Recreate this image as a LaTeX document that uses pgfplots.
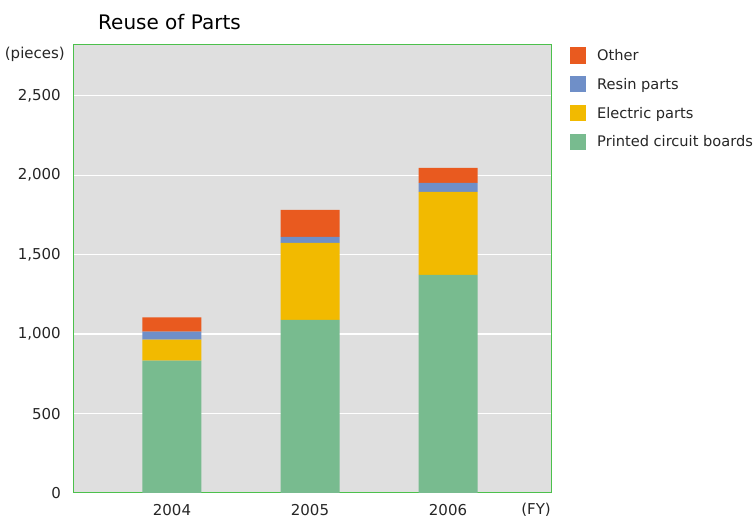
\documentclass[border=0pt]{standalone}
\usepackage{pgfplots}
\pgfplotsset{compat=1.18}
\usepackage{fontspec}
\setmainfont{DejaVu Sans}
\definecolor{cOther}{HTML}{E95A1F}
\definecolor{cResin}{HTML}{6F8FC8}
\definecolor{cElec}{HTML}{F2BA00}
\definecolor{cPCB}{HTML}{78BB8F}
\definecolor{cBg}{HTML}{DFDFDF}
\definecolor{cFrame}{HTML}{4CC04C}
\definecolor{cText}{HTML}{262626}
\begin{document}
\begin{tikzpicture}[x=1pt,y=1pt]
\useasboundingbox (0,0) rectangle (756,520);
\node[anchor=west, font=\fontsize{20}{24}\selectfont, text=black, inner sep=0pt] at (98,498) {Reuse of Parts};
\begin{axis}[
  at={(73pt,27pt)}, anchor=south west, scale only axis,
  width=478pt, height=448pt,
  clip=false,
  ybar stacked, bar width=59pt,
  xmin=-0.717, xmax=2.746, ymin=0, ymax=2820,
  xtick={0,1,2}, xticklabels={2004,2005,2006},
  ytick={0,500,1000,1500,2000,2500},
  major tick length=0pt,
  axis background/.style={fill=cBg},
  ymajorgrids, grid style={white, line width=1.3pt},
  axis line style={draw=cFrame, line width=1pt},
  /pgf/number format/assume math mode=true,
  /pgf/number format/1000 sep={,},
  tick label style={font=\fontsize{15}{18}\selectfont, text=cText},
  yticklabel style={anchor=east, inner sep=0pt, xshift=-12pt},
  xticklabel style={anchor=center, inner sep=0pt, yshift=-17pt},
  reverse legend,
  legend style={at={(1,1)}, anchor=north west, xshift=19pt, yshift=-2pt,
    draw=none, fill=none, font=\fontsize{14.6}{18}\selectfont, text=cText,
    row sep=12pt, inner sep=0pt, legend cell align=left,
    /tikz/every odd column/.append style={column sep=9pt}},
  legend image code/.code={\fill[#1] (0pt,-8pt) rectangle (16pt,8.5pt);},
]
\addplot[fill=cPCB, draw=none] coordinates {(0,833) (1,1090) (2,1373)};
\addlegendentry{Printed circuit boards}
\addplot[fill=cElec, draw=none] coordinates {(0,133) (1,485) (2,522)};
\addlegendentry{Electric parts}
\addplot[fill=cResin, draw=none] coordinates {(0,50) (1,37) (2,57)};
\addlegendentry{Resin parts}
\addplot[fill=cOther, draw=none] coordinates {(0,89) (1,170) (2,95)};
\addlegendentry{Other}
\node[anchor=east, inner sep=0pt, font=\fontsize{15}{18}\selectfont, text=cText] at (rel axis cs:0,1) [xshift=-8pt, yshift=-9pt] {(pieces)};
\node[anchor=east, inner sep=0pt, font=\fontsize{15}{18}\selectfont, text=cText] at (rel axis cs:1,0) [yshift=-17pt] {(FY)};
\end{axis}
\end{tikzpicture}
\end{document}
